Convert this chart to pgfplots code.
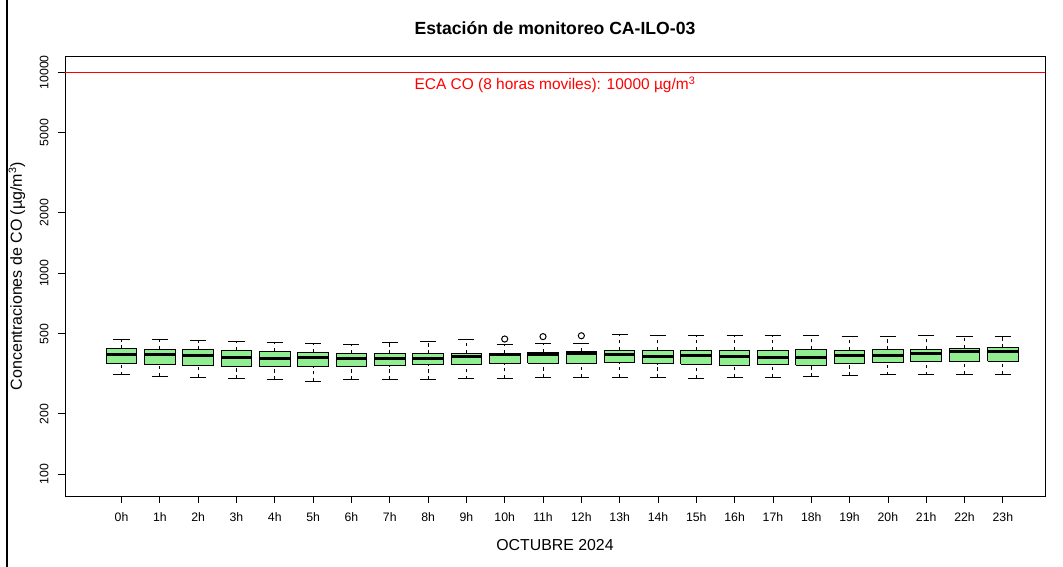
\documentclass[border=0pt]{standalone}
\usepackage{pgfplots}
\pgfplotsset{compat=1.18}
\usepackage{fontspec}
\setmainfont{Liberation Sans}
\definecolor{boxgreen}{HTML}{90EE90}

\pgfplotsset{
  whisk/.style={black, line width=0.75pt, dash pattern=on 2.6pt off 2.6pt},
  cap/.style={black, line width=0.75pt},
  hbox/.style={draw=black, fill=boxgreen, line width=0.75pt, line join=miter},
  med/.style={black, line width=2.2pt},
}
% one box per hour: position, lower whisker, Q1, median, Q3, upper whisker
\newcommand{\hourbox}[6]{%
  \pgfmathsetmacro\xa{#1-0.4}\pgfmathsetmacro\xb{#1+0.4}%
  \pgfmathsetmacro\ca{#1-0.21}\pgfmathsetmacro\cb{#1+0.21}%
  \edef\hb{%
    \noexpand\addplot[hbox] coordinates {(\xa,#3) (\xb,#3) (\xb,#5) (\xa,#5) (\xa,#3)};
    \noexpand\addplot[med] coordinates {(\xa,#4) (\xb,#4)};
    \noexpand\addplot[whisk] coordinates {(#1,#2) (#1,#3)};
    \noexpand\addplot[whisk] coordinates {(#1,#5) (#1,#6)};
    \noexpand\addplot[cap] coordinates {(\ca,#2) (\cb,#2)};
    \noexpand\addplot[cap] coordinates {(\ca,#6) (\cb,#6)};
  }\hb}

\begin{document}
\begin{tikzpicture}
\path[use as bounding box] (-48.75pt,-53.25pt) rectangle (748.5pt,372pt);
\draw[line width=0.8pt] (-43.5pt,-53.25pt) -- (-43.5pt,372pt);
\begin{axis}[
  at={(0,0)}, anchor=south west,
  scale only axis, width=735pt, height=330pt,
  ymode=log, ymin=78, ymax=12050,
  xmin=-1.475, xmax=24.1,
  xtick={0,...,23},
  xticklabels={0h,1h,2h,3h,4h,5h,6h,7h,8h,9h,10h,11h,12h,13h,14h,15h,16h,17h,18h,19h,20h,21h,22h,23h},
  ytick={100,200,500,1000,2000,5000,10000},
  yticklabels={100,200,500,1000,2000,5000,10000},
  minor ytick={},
  tick pos=left, tick align=outside,
  major tick length=5.25pt,
  every tick/.style={black, line width=0.6pt},
  axis line style={line width=0.6pt},
  xticklabel style={font=\fontsize{9.2}{11}\selectfont, yshift=-3.75pt},
  yticklabel style={font=\fontsize{9.2}{11}\selectfont, xshift=-3.6pt,
    rotate=90, anchor=south},
  title={Estación de monitoreo CA-ILO-03},
  every axis title/.style={at={(axis description cs:0.5,1)}, anchor=base,
    yshift=15.75pt, font=\bfseries\fontsize{13.2}{15}\selectfont},
  xlabel={OCTUBRE 2024},
  every axis x label/.style={at={(axis description cs:0.5,0)}, anchor=base,
    yshift=-41pt, font=\fontsize{11.9}{14}\selectfont},
  ylabel={Concentraciones de CO (µg/m\textsuperscript{3})},
  every axis y label/.style={at={(axis description cs:0,0.5)}, xshift=-36pt,
    rotate=90, anchor=center, font=\fontsize{12}{14}\selectfont},
]
% ECA limit
\addplot[red, line width=1pt] coordinates {(-2,10000) (25,10000)};
\node[text=red, anchor=north, inner sep=0pt, yshift=-3pt,
  font=\fontsize{11.6}{13}\selectfont]
  at ({axis description cs:0.5,0} |- {axis cs:0,10000})
  {ECA CO (8 horas moviles): 10000 µg/m\textsuperscript{3}};

\hourbox{0}{312}{355}{396}{422}{467}
\hourbox{1}{308}{351}{394}{420}{466}
\hourbox{2}{304}{347}{388}{417}{462}
\hourbox{3}{299}{343}{382}{414}{457}
\hourbox{4}{295}{343}{376}{409}{450}
\hourbox{5}{291}{343}{380}{405}{445}
\hourbox{6}{295}{343}{378}{400}{444}
\hourbox{7}{295}{346}{375}{398}{452}
\hourbox{8}{296}{350}{378}{398}{459}
\hourbox{9}{298}{353}{385}{401}{466}
\hourbox{10}{300}{355}{394}{401}{440}
\hourbox{11}{302}{357}{395}{405}{445}
\hourbox{12}{304}{357}{398}{409}{449}
\hourbox{13}{304}{359}{394}{414}{495}
\hourbox{14}{302}{355}{386}{414}{493}
\hourbox{15}{301}{353}{389}{415}{489}
\hourbox{16}{304}{349}{385}{415}{489}
\hourbox{17}{304}{350}{383}{414}{488}
\hourbox{18}{306}{349}{383}{419}{489}
\hourbox{19}{310}{355}{391}{414}{486}
\hourbox{20}{312}{359}{391}{417}{486}
\hourbox{21}{312}{363}{399}{419}{488}
\hourbox{22}{315}{363}{407}{424}{486}
\hourbox{23}{315}{366}{407}{427}{482}
% outliers
\addplot[only marks, mark=o, mark size=2.3pt, black, line width=0.75pt]
  coordinates {(10,471) (11,484) (12,489)};
\end{axis}
\end{tikzpicture}
\end{document}
